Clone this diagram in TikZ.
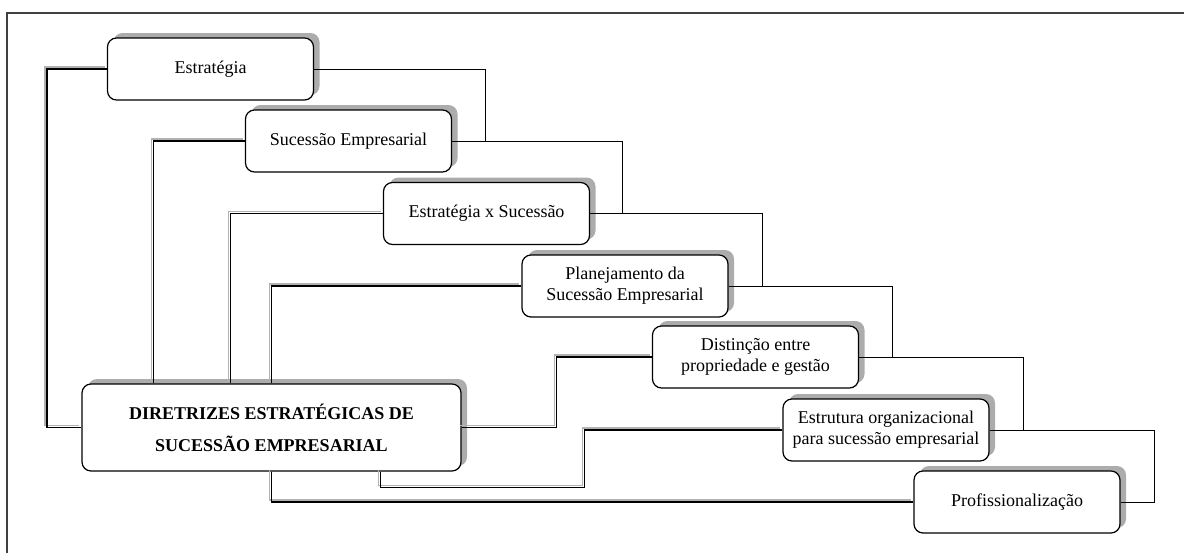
\documentclass[tikz,border=0pt]{standalone}
\usepackage{fontspec}
\setmainfont{Liberation Serif}
\usetikzlibrary{calc, shadows}

\begin{document}
\begin{tikzpicture}[x=1pt, y=-1pt,
  stage/.style={draw, line width=1.2pt, rounded corners=9pt, fill=white,
    minimum width=206pt, minimum height=62pt, align=center, inner sep=2pt,
    font=\fontsize{18}{21}\selectfont,
    general shadow={fill=gray!65, shadow xshift=6pt, shadow yshift=5pt}},
  core/.style={stage, minimum width=379pt, minimum height=87pt,
    font=\fontsize{18}{32}\selectfont\bfseries},
  link/.style={line width=1.5pt, preaction={draw, gray!60, line width=1.3pt,
    transform canvas={xshift=-2pt, yshift=2pt}}},
  back/.style={line width=1pt}]
\useasboundingbox (0,0) rectangle (1184,552);
% Outer frame
\draw[line width=1.3pt, black!75] (7,560) |- (1184,13);
% The stages, step by step
\node[stage] (s1) at (210.5,69) {Estratégia};
\node[stage] (s2) at (348.5,141) {Sucessão Empresarial};
\node[stage] (s3) at (486.5,213.5) {Estratégia x Sucessão};
\node[stage] (s4) at (625,286) {Planejamento da\\Sucessão Empresarial};
\node[stage] (s5) at (755.5,357) {Distinção entre\\propriedade e gestão};
\node[stage] (s6) at (886,430) {Estrutura organizacional\\para sucessão empresarial};
\node[stage] (s7) at (1017,502) {Profissionalização};
% The guidelines
\node[core] (main) at (271.5,427.5) {DIRETRIZES ESTRATÉGICAS DE\\SUCESSÃO EMPRESARIAL};
% Links on the left, into the guidelines
\draw[link] (s1.west) -- ++(-60,0) |- (main.west);
\draw[link] (s2.west) -| ([xshift=72pt]main.north west);
\draw[link] (s3.west) -| ([xshift=149pt]main.north west);
\draw[link] (s4.west) -| ([xshift=190pt]main.north west);
\draw[link] (main.east) -- ++(95,0) |- (s5.west);
\draw[link] ([xshift=299pt]main.south west) -- ++(0,16) -| ([xshift=-198pt]s6.west) -- (s6.west);
\draw[link] ([xshift=190pt]main.south west) |- (s7.west);
% Links on the right, from each stage to the next
\draw[back] (s1.east) -| ([xshift=33pt]s2.east);
\draw[back] (s2.east) -| ([xshift=32pt]s3.east);
\draw[back] (s3.east) -| ([xshift=34pt]s4.east);
\draw[back] (s4.east) -| ([xshift=33pt]s5.east);
\draw[back] (s5.east) -| ([xshift=34pt]s6.east);
\draw[back] (s6.east) -| ([xshift=34pt]s7.east);
\draw[back] (s7.east) -- ++(34,0);
\end{tikzpicture}
\end{document}
